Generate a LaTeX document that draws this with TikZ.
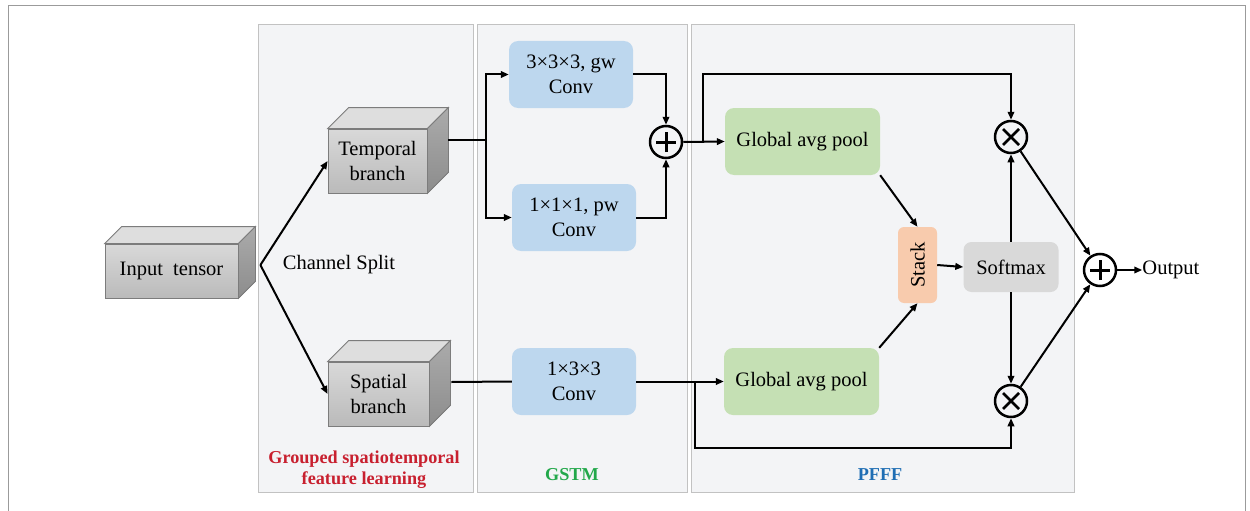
\documentclass[tikz,border=0pt]{standalone}
\usepackage{fontspec}
\setmainfont{Liberation Serif}
\usetikzlibrary{positioning,calc,arrows.meta}

\definecolor{panelbg}{HTML}{F3F4F6}
\definecolor{panelln}{HTML}{C2C2C2}
\definecolor{cubeln}{HTML}{7C7C7C}
\definecolor{convblue}{HTML}{BDD7EE}
\definecolor{poolgreen}{HTML}{C5E0B4}
\definecolor{stackorg}{HTML}{F8CBAD}
\definecolor{softgray}{HTML}{D9D9D9}
\definecolor{txtred}{HTML}{C8202F}
\definecolor{txtgreen}{HTML}{22A84A}
\definecolor{txtblue}{HTML}{1F6EB4}

\begin{document}
\begin{tikzpicture}[x=1pt,y=-1pt,
		font=\fontsize{20.5}{24.5}\selectfont,
		panel/.style={draw=panelln,fill=panelbg,line width=1pt},
		cube/.style={draw=cubeln,line width=0.8pt,top color=black!15,bottom color=black!27,
			inner sep=0pt,align=center},
		blk/.style={rounded corners=9pt,inner sep=0pt,align=center,
			minimum width=#1,minimum height=67pt},
		conv/.style={blk=124pt,fill=convblue},
		pool/.style={blk=155pt,fill=poolgreen},
		op/.style={circle,draw,line width=2.5pt,minimum size=32pt,inner sep=0pt},
		addop/.style={op,path picture={
				\draw[line width=3pt] ($(path picture bounding box.center)+(-10pt,0)$) -- ++(20pt,0)
				($(path picture bounding box.center)+(0,-10pt)$) -- ++(0,20pt);}},
		mulop/.style={op,path picture={
				\draw[line width=2.5pt] ($(path picture bounding box.center)+(-8pt,-8pt)$) -- ++(16pt,16pt)
				($(path picture bounding box.center)+(-8pt,8pt)$) -- ++(16pt,-16pt);}},
		lbl/.style={font=\fontsize{18.2}{21}\selectfont\bfseries,align=center},
		ln/.style={line width=2pt},
		arr/.style={ln,-{Triangle[length=8pt,width=6.5pt]}}
		]
		\useasboundingbox (0,0) rectangle (1250,511);
		
		%% 外框和三个区域
		\draw[panelln!80!black,line width=1pt] (8.5,511) -- (8.5,5.5) -- (1245,5.5) -- (1245,511);
		\draw[panel] (258,25) rectangle (473,492);
		\draw[panel] (477,25) rectangle (687,492);
		\draw[panel] (691,25) rectangle (1074,492);
		
		%% 立方体
		\node[cube,minimum width=133pt,minimum height=54pt] (inp) at (171.5,271) {Input\ \ tensor};
		\node[cube,minimum width=99pt,minimum height=64pt] (tmp) at (377.5,161) {Temporal\\branch};
		\node[cube,minimum width=101pt,minimum height=64pt] (spa) at (378.5,394) {Spatial\\branch};
		\foreach \n/\d in {inp/17,tmp/21,spa/21}{
			\filldraw[draw=cubeln,line width=0.8pt,fill=black!13]
			(\n.north west) -- ++(\d,-\d) -- ($(\n.north east)+(\d,-\d)$) -- (\n.north east) -- cycle;
			\filldraw[draw=cubeln,line width=0.8pt,top color=black!33,bottom color=black!45]
			(\n.north east) -- ++(\d,-\d) -- ($(\n.south east)+(\d,-\d)$) -- (\n.south east) -- cycle;
		}
		
		%% GSTM
		\node[conv] (c1) at (571,74.5) {3×3×3, gw\\Conv};
		\node[conv] (c2) at (574,217.5) {1×1×1, pw\\Conv};
		\node[conv] (c3) at (574,381.5) {1×3×3\\Conv};
		\node[addop] (add1) at (666,142) {};
		
		%% PFFF
		\node[pool] (gap1) at (802.5,141.5) {Global avg pool};
		\node[pool] (gap2) at (801.5,381.5) {Global avg pool};
		\node[fill=stackorg,rounded corners=6pt,minimum width=39pt,minimum height=76pt,inner sep=0pt]
		(stk) at (917.5,265) {\rotatebox{90}{Stack}};
		\node[fill=softgray,rounded corners=8pt,minimum width=95pt,minimum height=50pt,inner sep=0pt]
		(soft) at (1011,267) {Softmax};
		\node[mulop] (mul1) at (1011,137) {};
		\node[mulop] (mul2) at (1011,401) {};
		\node[addop] (add2) at (1100,270) {};
		\node[right=25pt of add2,inner sep=0pt] (out) {Output};
		
		%% 标签
		\node[lbl,text=txtred] (glbl) at (364,470) {Grouped spatiotemporal\\feature learning};
		\node[lbl,text=txtgreen] (gstm) at (572,475) {GSTM};
		\node[lbl,text=txtblue] (pfff) at (880,475) {PFFF};
		
		%% 分组
		\coordinate (chs) at ($(inp.east)+(22,-6)$);
		\node[right=19pt of chs] (chsplit) {Channel Split};
		\draw[arr] (chs) -- (tmp.west);
		\draw[arr] (chs) -- (spa.west);
		
		% 时间分支
		\coordinate (tout) at ($(tmp.east)+(21,-21)$);
		\coordinate (tsplit) at (486,140);
		\draw[ln] (tout) -- (tsplit);
		\draw[arr] (tsplit) |- (c1.west);
		\draw[arr] (tsplit) |- (c2.west);
		\draw[arr] (c1.east) -| (add1.north);
		\draw[arr] (c2.east) -| (add1.south);
		\draw[arr] (add1.east) -- (gap1.west);
		\coordinate (abr) at (703,142);
		\coordinate (ptop) at (703,74);
		\draw[arr] (abr) -- (ptop) -| (mul1.north);
		
		% 空间分支
		\coordinate (sout) at ($(spa.east)+(22,-12)$);
		\draw[ln] (sout) -- (c3.west);
		\draw[arr] (c3.east) -- (gap2.west);
		\coordinate (sbr) at (695,381.5);
		\coordinate (pbot) at (695,448);
		\draw[arr] (sbr) -- (pbot) -| (mul2.south);
		
		% 融合
		\draw[arr] (gap1.south east) -- (stk.north);
		\draw[arr] (gap2.north east) -- (stk.south);
		\draw[arr] (stk.east) -- (soft.west);
		\draw[arr] (soft.north) -- (mul1.south);
		\draw[arr] (soft.south) -- (mul2.north);
		\draw[arr] (mul1) -- (add2);
		\draw[arr] (mul2) -- (add2);
		\draw[arr] (add2.east) -- (out.west);
	\end{tikzpicture}
\end{document}
